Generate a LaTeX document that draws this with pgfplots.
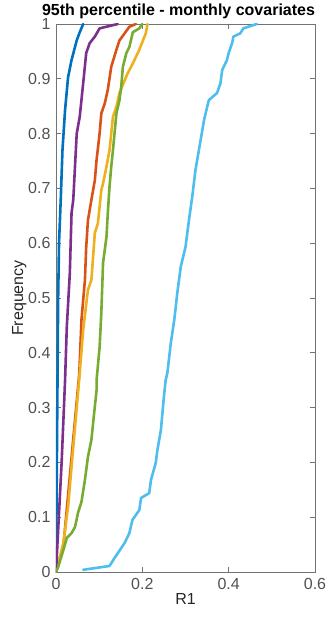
\documentclass[border=0pt]{standalone}
\usepackage{fontspec}
\setmainfont{Liberation Sans}
\usepackage{pgfplots}
\pgfplotsset{compat=1.18}

\definecolor{mblue}{RGB}{0,114,189}
\definecolor{morange}{RGB}{217,83,25}
\definecolor{myellow}{RGB}{237,177,32}
\definecolor{mpurple}{RGB}{126,47,142}
\definecolor{mgreen}{RGB}{119,172,48}
\definecolor{mcyan}{RGB}{77,190,238}
\definecolor{axgray}{RGB}{38,38,38}

\begin{document}
\begin{tikzpicture}
\begin{axis}[
  scale only axis,
  width=259pt, height=548pt,
  xmin=0, xmax=0.6, ymin=0, ymax=1,
  xtick={0,0.2,0.4,0.6},
  ytick={0,0.1,0.2,0.3,0.4,0.5,0.6,0.7,0.8,0.9,1},
  xticklabels={0,0.2,0.4,0.6},
  yticklabels={0,0.1,0.2,0.3,0.4,0.5,0.6,0.7,0.8,0.9,1},
  tick align=inside,
  major tick length=5pt,
  axis line style={draw=black!55, line width=0.6pt},
  every tick/.style={draw=black!55, line width=0.6pt},
  ticklabel style={font=\fontsize{16}{18}\selectfont, text=axgray!80},
  xticklabel style={yshift=-3pt},
  yticklabel style={xshift=-2pt},
  xlabel={R1}, ylabel={Frequency},
  label style={font=\fontsize{16}{18}\selectfont, text=axgray},
  xlabel style={yshift=3pt},
  ylabel style={yshift=-5pt},
  title={95th percentile - monthly covariates},
  title style={font=\bfseries\fontsize{16}{19}\selectfont, yshift=-4pt, xshift=-7pt},
  every axis plot/.append style={line width=2.6pt, line join=round, line cap=round},
]
% dark blue
\addplot[mblue] coordinates {
(0,0) (0.002,0.2) (0.004,0.4) (0.005,0.5) (0.007,0.6) (0.011,0.68) (0.015,0.77)
(0.021,0.843) (0.028,0.903) (0.036,0.934) (0.048,0.97) (0.055,0.985) (0.063,1)
};
% red-orange
\addplot[morange] coordinates {
(0,0) (0.017,0.046) (0.035,0.2) (0.054,0.363) (0.059,0.46) (0.067,0.533) (0.07,0.593)
(0.074,0.642) (0.082,0.679) (0.09,0.715) (0.094,0.752) (0.101,0.80) (0.105,0.837)
(0.113,0.855) (0.12,0.88) (0.128,0.922) (0.14,0.953) (0.147,0.97) (0.159,0.983)
(0.17,0.995) (0.185,1)
};
% yellow
\addplot[myellow] coordinates {
(0,0) (0.017,0.053) (0.028,0.119) (0.04,0.228) (0.055,0.363) (0.063,0.442)
(0.074,0.515) (0.082,0.533) (0.09,0.619) (0.097,0.636) (0.105,0.697) (0.109,0.709)
(0.117,0.74) (0.124,0.77) (0.132,0.831) (0.14,0.849) (0.147,0.874) (0.159,0.897)
(0.166,0.91) (0.178,0.928) (0.193,0.953) (0.208,0.983) (0.212,1)
};
% purple
\addplot[mpurple] coordinates {
(0,0) (0.005,0.077) (0.013,0.199) (0.021,0.35) (0.025,0.447) (0.032,0.545)
(0.036,0.655) (0.04,0.679) (0.044,0.74) (0.048,0.80) (0.055,0.831) (0.063,0.892)
(0.07,0.947) (0.078,0.965) (0.09,0.977) (0.101,0.992) (0.143,1)
};
% green
\addplot[mgreen] coordinates {
(0,0) (0.005,0.009) (0.017,0.04) (0.025,0.062) (0.036,0.071) (0.044,0.082)
(0.051,0.108) (0.059,0.128) (0.067,0.168) (0.074,0.21) (0.082,0.241) (0.086,0.272)
(0.094,0.332) (0.094,0.35) (0.101,0.41) (0.105,0.473) (0.109,0.564) (0.117,0.612)
(0.12,0.655) (0.124,0.703) (0.128,0.74) (0.132,0.77) (0.14,0.837)
(0.147,0.861) (0.151,0.885) (0.155,0.922) (0.163,0.947) (0.17,0.958) (0.178,0.985)
(0.193,0.992) (0.2,1)
};
% light blue
\addplot[mcyan] coordinates {
(0.063,0.004) (0.124,0.011) (0.136,0.026) (0.159,0.053) (0.17,0.071) (0.177,0.095)
(0.193,0.113) (0.197,0.135) (0.216,0.144) (0.22,0.168) (0.231,0.199) (0.235,0.223)
(0.243,0.259) (0.25,0.32) (0.254,0.35) (0.258,0.363) (0.266,0.418) (0.274,0.46)
(0.281,0.509) (0.289,0.557) (0.3,0.593) (0.308,0.642) (0.316,0.687) (0.323,0.733)
(0.335,0.788) (0.343,0.825) (0.354,0.861) (0.373,0.874) (0.381,0.892) (0.385,0.916)
(0.396,0.934) (0.4,0.947) (0.408,0.965) (0.411,0.977) (0.427,0.983) (0.434,0.992)
(0.465,1)
};
\end{axis}
% fixed page frame around the axis box
\pgfresetboundingbox
\path ([xshift=-56pt,yshift=-47pt]current axis.south west)
      rectangle ([xshift=14pt,yshift=24pt]current axis.north east);
\end{tikzpicture}
\end{document}
